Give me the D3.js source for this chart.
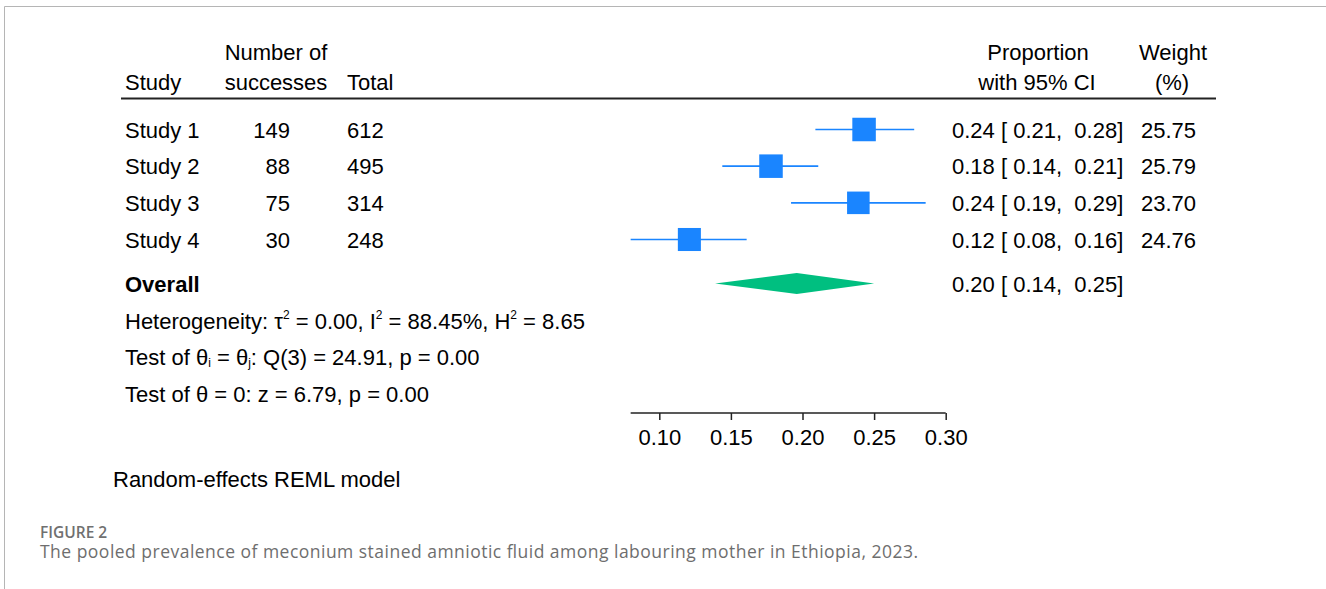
<!DOCTYPE html>
<html>
<head>
<meta charset="utf-8">
<script src="https://cdn.jsdelivr.net/npm/d3@7"></script>
<style>
  html, body { margin: 0; padding: 0; background: #fff; }
  svg { display: block; }
  text { white-space: pre; }
</style>
</head>
<body>
<svg id="chart" width="1326" height="589"></svg>
<script>
// ---- data ----
const studies   = ["Study 1", "Study 2", "Study 3", "Study 4"];
const successes = [149, 88, 75, 30];
const totals    = [612, 495, 314, 248];
const estimate  = [0.243, 0.178, 0.239, 0.121];
const ciLow     = [0.209, 0.144, 0.192, 0.080];
const ciHigh    = [0.278, 0.211, 0.286, 0.161];
const weights   = [25.75, 25.79, 23.70, 24.76];
const overall   = { est: 0.196, lo: 0.139, hi: 0.250 };
const tickValues = [0.10, 0.15, 0.20, 0.25, 0.30];
const hetText = { tau2: "0.00", I2: "88.45%", H2: "8.65", Q: "24.91", df: 3, pQ: "0.00", z: "6.79", pz: "0.00" };

// ---- layout ----
const svg = d3.select("#chart");
const FONT = "'Liberation Sans', Arial, Helvetica, sans-serif";
const FS = 22;
const blue = "#1a85ff";
const green = "#00bf80";

const x = d3.scaleLinear().domain([0.10, 0.30]).range([659.3, 945.7]);
const rowY = d3.scalePoint().domain(studies).range([129.5, 239.5]);
const overallY = 283.5;

// border of figure panel
svg.append("path")
  .attr("d", "M4.5,589 L4.5,6.5 L1326,6.5")
  .attr("fill", "none").attr("stroke", "#b5b5b5").attr("stroke-width", 1);

const g = svg.append("g").attr("font-family", FONT).attr("font-size", FS).attr("fill", "#000");

// headers
g.append("text").attr("x", 125).attr("y", 90).text("Study");
g.append("text").attr("x", 276).attr("y", 60).attr("text-anchor", "middle").text("Number of");
g.append("text").attr("x", 276).attr("y", 90).attr("text-anchor", "middle").text("successes");
g.append("text").attr("x", 347).attr("y", 90).text("Total");
g.append("text").attr("x", 1038).attr("y", 60).attr("text-anchor", "middle").text("Proportion");
g.append("text").attr("x", 1037).attr("y", 90).attr("text-anchor", "middle").text("with 95% CI");
g.append("text").attr("x", 1173).attr("y", 60).attr("text-anchor", "middle").text("Weight");
g.append("text").attr("x", 1172).attr("y", 90).attr("text-anchor", "middle").text("(%)");

svg.append("line").attr("x1", 121).attr("x2", 1216).attr("y1", 98.5).attr("y2", 98.5)
  .attr("stroke", "#222").attr("stroke-width", 2);

const f2 = d3.format(".2f");
const rows = studies.map((s, i) => ({ s, n: successes[i], N: totals[i], est: estimate[i], lo: ciLow[i], hi: ciHigh[i], w: weights[i] }));

const rg = g.selectAll("g.row").data(rows).join("g").attr("class", "row")
  .attr("transform", d => `translate(0,${rowY(d.s)})`);

rg.append("text").attr("x", 125).attr("y", 8).text(d => d.s);
rg.append("text").attr("x", 290).attr("y", 8).attr("text-anchor", "end").text(d => d.n);
rg.append("text").attr("x", 347).attr("y", 8).text(d => d.N);
rg.append("text").attr("x", 952).attr("y", 8).text(d => `${f2(d.est)} [ ${f2(d.lo)},  ${f2(d.hi)}]`);
rg.append("text").attr("x", 1141).attr("y", 8).text(d => f2(d.w));

// CI lines
rg.append("line").attr("x1", d => x(d.lo)).attr("x2", d => x(d.hi)).attr("y1", 0).attr("y2", 0)
  .attr("stroke", blue).attr("stroke-width", 1.6);
// squares (area proportional to weight)
const side = d3.scaleSqrt().domain([0, 25.75]).range([0, 23.5]);
rg.append("rect")
  .attr("x", d => x(d.est) - side(d.w) / 2).attr("y", d => -side(d.w) / 2)
  .attr("width", d => side(d.w)).attr("height", d => side(d.w))
  .attr("fill", blue);

// overall
g.append("text").attr("x", 125).attr("y", overallY + 8).attr("font-weight", "bold").text("Overall");
g.append("text").attr("x", 952).attr("y", overallY + 8)
  .text(`${f2(overall.est)} [ ${f2(overall.lo)},  ${f2(overall.hi)}]`);
svg.append("path")
  .attr("d", `M${x(overall.lo)},${overallY} L${x(overall.est)},${overallY - 10.5} L${x(overall.hi)},${overallY} L${x(overall.est)},${overallY + 10.5} Z`)
  .attr("fill", green);

// heterogeneity statistics
const het = g.append("text").attr("x", 125).attr("y", 329);
het.append("tspan").text("Heterogeneity: τ");
het.append("tspan").attr("font-size", 12).attr("dy", -10).text("2");
het.append("tspan").attr("dy", 10).text(` = ${hetText.tau2}, I`);
het.append("tspan").attr("font-size", 12).attr("dy", -10).text("2");
het.append("tspan").attr("dy", 10).text(` = ${hetText.I2}, H`);
het.append("tspan").attr("font-size", 12).attr("dy", -10).text("2");
het.append("tspan").attr("dy", 10).text(` = ${hetText.H2}`);

const t1 = g.append("text").attr("x", 125).attr("y", 365);
t1.append("tspan").text("Test of θ");
t1.append("tspan").attr("font-size", 12).attr("dy", 2).text("i");
t1.append("tspan").attr("dy", -2).text(" = θ");
t1.append("tspan").attr("font-size", 12).attr("dy", 2).text("j");
t1.append("tspan").attr("dy", -2).text(`: Q(${hetText.df}) = ${hetText.Q}, p = ${hetText.pQ}`);

g.append("text").attr("x", 125).attr("y", 402).text(`Test of θ = 0: z = ${hetText.z}, p = ${hetText.pz}`);

// axis
const axisY = 413;
const axis = d3.axisBottom(x).tickValues(tickValues).tickFormat(d3.format(".2f")).tickSize(7).tickSizeOuter(0);
const ag = svg.append("g").attr("transform", `translate(0,${axisY})`).call(axis);
ag.select(".domain").remove();
ag.append("line").attr("x1", x(d3.min(ciLow))).attr("x2", x(d3.max(tickValues)))
  .attr("y1", 0).attr("y2", 0).attr("stroke", "#222").attr("stroke-width", 1.5);
ag.selectAll(".tick line").attr("stroke", "#222").attr("stroke-width", 1.5);
ag.selectAll(".tick text").attr("font-family", FONT).attr("font-size", FS).attr("fill", "#000")
  .attr("y", 32).attr("dy", 0);

g.append("text").attr("x", 113).attr("y", 487).text("Random-effects REML model");

// caption
const cap = svg.append("g").attr("font-family", "'Open Sans', 'Noto Sans', sans-serif").attr("fill", "#6e6e6e");
cap.append("text").attr("x", 40).attr("y", 537.5).attr("font-size", 15.5).attr("font-weight", 600).attr("fill", "#707070").text("FIGURE 2");
cap.append("text").attr("x", 40).attr("y", 558).attr("font-size", 17.5)
  .attr("textLength", 878).attr("lengthAdjust", "spacing")
  .text("The pooled prevalence of meconium stained amniotic fluid among labouring mother in Ethiopia, 2023.");
</script>
</body>
</html>
